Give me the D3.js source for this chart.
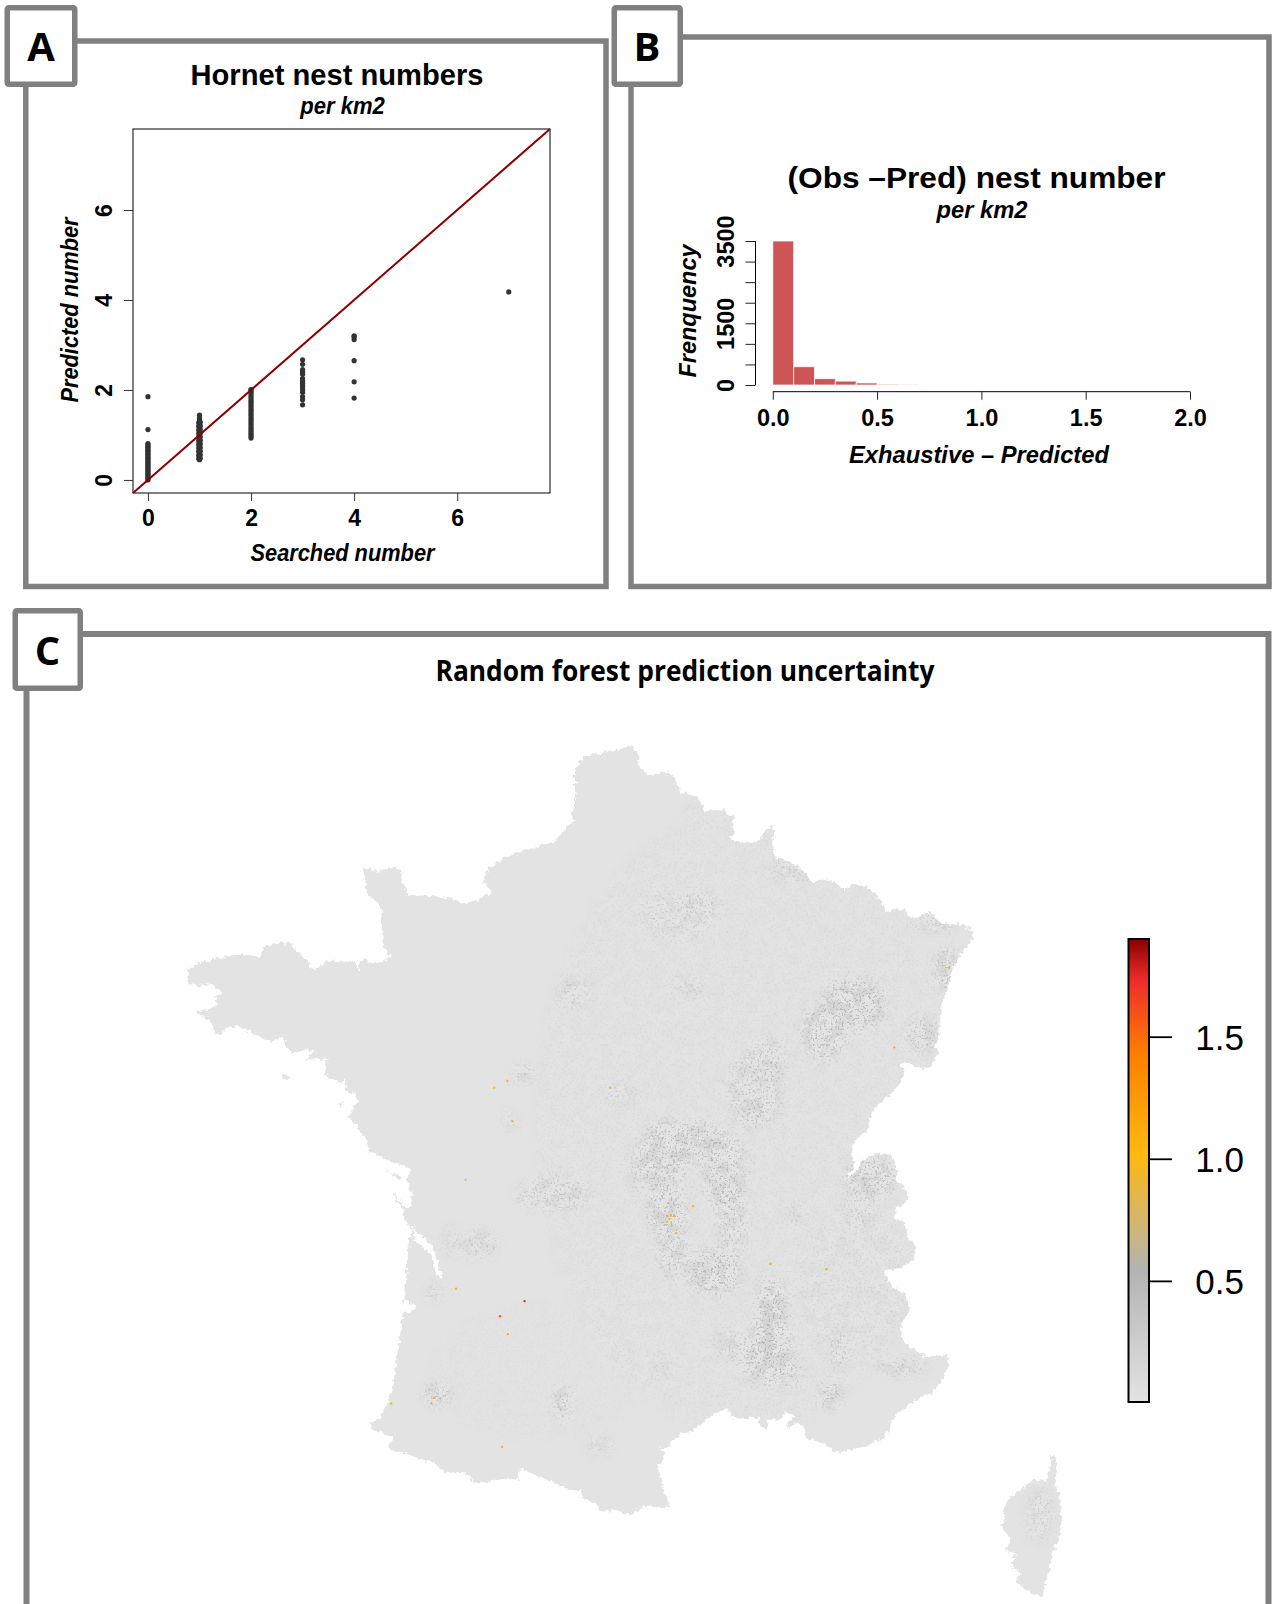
<!DOCTYPE html>
<html><head><meta charset="utf-8">
<script src="https://cdn.jsdelivr.net/npm/d3@7"></script>
<style>html,body{margin:0;padding:0;background:#fff;overflow:hidden}svg{display:block}
text{font-family:"Liberation Sans",Arial,sans-serif;fill:#000}</style></head><body>
<script>
// ---------- Panel A values ----------
const searched0 = [0,0.03,0.06,0.09,0.12,0.15,0.18,0.21,0.24,0.27,0.3,0.33,0.36,0.39,0.42,0.45,0.48,0.51,0.54,0.57,0.6,0.63,0.66,0.69,0.72,0.75,0.78,0.81,1.12,1.85];
const searched1 = [0.45,0.48,0.52,0.56,0.6,0.64,0.68,0.72,0.76,0.8,0.84,0.88,0.92,0.96,1.0,1.04,1.08,1.12,1.16,1.2,1.24,1.28,1.32,1.37,1.44];
const searched1Left = [0.47,0.55,0.63,0.71,0.79,0.87,0.95,1.03,1.11,1.19,1.27];
const searched1Right = [0.48,0.56,0.64,0.72,0.8,0.88,0.96,1.04,1.12,1.2,1.28];
const searched2 = [0.93,0.97,1.01,1.05,1.1,1.15,1.2,1.25,1.3,1.35,1.4,1.45,1.5,1.55,1.6,1.65,1.7,1.75,1.8,1.85,1.9,1.95,2.0,2.01];
const searched3 = [1.67,1.78,1.85,1.95,2.0,2.05,2.1,2.15,2.2,2.25,2.35,2.4,2.45,2.57,2.67];
const searched4 = [1.82,2.18,2.65,3.12,3.18,3.2];
const searched7 = [4.18];
const scatterGroups = [[0,searched0],[1,searched1],[0.985,searched1Left],[1.015,searched1Right],[2,searched2],[3,searched3],[4,searched4],[7,searched7]];
const axisTicksA = [0,2,4,6];
const limitsA = [-0.29,7.8];
// ---------- Panel B values ----------
const binStarts = [0,0.1,0.2,0.3,0.4,0.5,0.6];
const binCounts = [3500,445,155,95,50,18,5];
const freqTicks = [0,500,1000,1500,2000,2500,3000,3500];
const freqLabels = [0,1500,3500];
const diffTicks = [0,0.5,1,1.5,2];
// ---------- Panel C values ----------
const legendTicks = [0.5,1,1.5];
const legendDomain = [0.004,1.9];
const colourValues = [0.004,0.54,1.02,1.43,1.73,1.9];
const colourStops = ["#e3e3e3","#b3b3b3","#ffb90f","#ff7f00","#ee2c2c","#8b0000"];
// coastline, one run per map sheet (sheet grid units)
const coastNE = [[0,90],[30,75],[80,65],[130,55],[155,45],[172,65],[178,85],[172,105],[190,120],[210,135],[235,130],[262,122],[285,145],[297,170],[300,190],[325,192],[352,200],[368,225],[372,245],[395,238],[430,238],[445,258],[462,258],[455,285],[462,305],[450,332],[490,335],[535,335],[552,310],[575,288],[583,300],[578,330],[582,358],[585,382],[610,388],[650,408],[675,425],[695,458],[745,448],[775,462],[795,478],[815,462],[850,465],[885,488],[905,515],[920,545],[955,538],[975,540],[985,560],[1020,560],[1050,545],[1065,565],[1085,582],[1150,582],[1183,608],[1170,640],[1145,670],[1118,715],[1108,760],[1085,820],[1080,880],[1072,930],[1062,950],[1075,965],[1065,995],[1040,1015],[1015,1012],[990,1000],[960,998],[975,1025],[960,1060],[925,1100],[885,1130],[870,1165],[865,1195],[830,1230]];
const coastSE = [[610,5],[585,25],[570,50],[570,80],[578,100],[570,120],[548,150],[575,130],[590,115],[600,90],[640,72],[685,70],[695,95],[705,120],[700,150],[725,170],[738,205],[720,225],[700,232],[698,265],[725,275],[735,315],[762,350],[750,385],[715,410],[680,415],[665,422],[690,465],[730,490],[742,535],[720,570],[715,615],[745,650],[790,675],[830,670],[850,668],[860,695],[840,740],[815,775],[770,795],[735,820],[695,850],[680,885],[670,910],[630,930],[575,950],[520,958],[490,930],[435,915],[430,880],[405,870],[378,885],[378,870],[405,850],[370,838],[360,860],[320,860],[318,885],[295,882],[295,855],[240,855],[210,850],[205,830],[185,830],[140,860],[95,895],[60,905],[30,930],[15,950]];
const coastSW = [[925,950],[945,965],[925,1020],[940,1070],[945,1095],[962,1125],[940,1135],[900,1125],[860,1140],[845,1155],[800,1140],[750,1145],[740,1120],[700,1105],[695,1080],[650,1075],[590,1050],[545,1030],[510,1015],[505,1050],[470,1045],[415,1055],[370,1058],[350,1030],[310,1030],[285,1025],[250,1000],[205,985],[155,965],[125,965],[115,950],[130,925],[90,905],[65,900],[60,880],[90,865],[110,825],[125,790],[135,720],[150,620],[160,550],[192,542],[195,530],[175,512],[160,520],[165,500],[170,420],[178,310],[190,300],[195,330],[245,375],[258,430],[275,450],[280,445],[265,410],[250,350],[225,325],[190,298],[160,265],[160,240],[180,235],[188,195],[170,150],[182,120],[165,105],[125,95],[60,65],[45,25],[25,0]];
const coastNW = [[570,1200],[535,1160],[560,1120],[560,1095],[525,1080],[530,1045],[555,1040],[510,1055],[470,1040],[465,1000],[475,985],[405,990],[430,965],[410,958],[370,970],[345,950],[350,930],[320,925],[300,935],[250,910],[205,888],[165,895],[155,915],[130,908],[125,880],[95,855],[78,845],[110,840],[145,825],[135,800],[155,785],[115,760],[85,770],[55,760],[55,720],[85,700],[130,688],[190,675],[230,675],[270,680],[280,650],[330,640],[360,635],[385,665],[410,690],[430,722],[470,695],[505,690],[530,700],[555,690],[565,725],[570,695],[590,680],[590,698],[630,695],[668,680],[640,655],[637,620],[635,540],[610,505],[590,490],[585,440],[580,412],[630,425],[675,410],[698,425],[690,445],[715,495],[780,498],[840,505],[885,520],[925,510],[970,480],[950,470],[938,455],[955,415],[1000,385],[1050,365],[1110,350],[1150,335],[1185,300],[1198,280],[1215,280],[1205,255],[1215,225],[1215,120],[1230,100]];
const corsica = [[1165,980],[1178,980],[1183,1020],[1175,1065],[1190,1095],[1195,1180],[1190,1220],[1165,1280],[1160,1320],[1145,1355],[1140,1395],[1125,1395],[1085,1375],[1058,1352],[1075,1330],[1045,1305],[1060,1270],[1030,1260],[1045,1225],[1018,1190],[1030,1165],[1020,1145],[1040,1105],[1075,1078],[1115,1050],[1150,1055],[1160,1020]];
const belleIle = [[333,1030],[362,1045],[355,1050],[335,1040]];
const noirmoutier = [[505,1120],[518,1120],[515,1135]];
const ileRe = [[105,120],[150,140],[150,150],[120,130]];
const oleron = [[130,185],[165,235],[160,240],[135,205]];
// uncertainty zones [east, north, spreadE, spreadN, strength] on the overview grid
const zones = [[945,760,45,60,.8],[1000,735,55,35,.75],[1060,790,40,70,.8],[1075,880,25,60,.7],[1040,970,50,40,.9],[960,930,25,50,.7],[950,860,35,45,.95],[905,790,25,40,.5],
[1150,1050,30,70,.95],[1140,1120,50,50,.85],[1180,1150,30,25,.6],[1280,1110,12,30,1],[1265,1190,18,25,.9],[1070,1100,25,25,.5],
[1310,490,60,45,.95],[1250,540,40,50,.85],[1440,545,25,30,.8],[1485,430,25,40,.85],[1460,345,45,18,.6],
[1120,640,50,70,.55],[1110,680,30,30,.5],[1150,590,25,40,.5],[970,330,70,40,.35],[770,470,28,25,.5],[990,460,30,14,.5],[1010,310,40,20,.3],
[510,1190,25,18,1],[750,1205,13,28,1],[505,1005,10,14,.8],[675,615,20,14,.8],[860,650,28,14,.55],[650,700,12,18,.5],
[730,830,70,30,.6],[590,920,38,25,.55],[535,915,15,25,.4],[1340,800,50,35,.8],[1320,860,30,30,.45],[1400,1140,50,18,.55],[820,1280,28,18,.4],[940,1140,15,25,.3],[1195,870,18,18,.4],
[1190,250,40,14,.6],[1000,145,20,7,.5],[1663,1405,26,50,.45],
[1100,700,400,560,.14],[1310,1000,110,130,.12],[700,1150,200,120,.08]];
// isolated high-uncertainty cells [east, north, value]
const hotCells = [[547,1000,1.05],[678,1022,1.75],[631,1049,1.55],[646,1081,1.1],[955,875,1.0],[965,870,1.0],[950,880,.95],[958,868,.9],[968,900,.85],[1000,852,.95],[505,1195,.9],[500,1205,.9],[423,1205,1.0],[842,640,.9],[645,628,.9],[620,640,1.0],[655,700,.8],[565,805,.9],[1490,425,.8],[1385,568,.8],[1255,965,.9],[1148,955,.9],[635,1283,.8]];

const W=1277,H=1604, GREY="#808080";
const svg=d3.select("body").append("svg").attr("width",W).attr("height",H);
const BOLD="700";
function txt(g,s,x,y,size,opt={}){
  const t=g.append("text").attr("x",x).attr("y",y).attr("text-anchor",opt.anchor||"middle")
   .style("font-size",size+"px").style("font-weight",opt.weight||BOLD).style("font-style",opt.italic?"italic":"normal").text(s);
  if(opt.family)t.style("font-family",opt.family);
  if(opt.rot)t.attr("transform",`rotate(-90 ${x} ${y})`);
  if(opt.len)t.attr("textLength",opt.len).attr("lengthAdjust","spacingAndGlyphs");
  return t;
}
function frame(x0,y0,x1,y1){svg.append("path").attr("d",`M${x0},${y0}H${x1}V${y1}H${x0}Z`).attr("fill","none").attr("stroke",GREY).attr("stroke-width",5.5);}
frame(25.8,41,606,586.5); frame(631,37,1269,586.5);
svg.append("path").attr("d",`M26.5,${H+10}V634H1268.5V${H+10}`).attr("fill","none").attr("stroke",GREY).attr("stroke-width",6);

// ---------- Panel C map ----------
const sheet=(x0,y0,k)=>p=>[x0+p[0]/k,y0+p[1]/k];
const toNW=sheet(170,730,3),toNE=sheet(580,730,3),toSW=sheet(350,1130,3),toSE=sheet(660,1130,2.97),toCorse=sheet(659,1126,2.97);
const gx=d3.scaleLinear().domain([0,1568]).range([170,990]);
const gy=d3.scaleLinear().domain([0,1564]).range([730,1604]);
const line=d3.line().curve(d3.curveLinear);
const ringPts=[...coastNE.map(toNE),...coastSE.map(toSE),...coastSW.map(toSW),...coastNW.map(toNW)];
const land=[ringPts,corsica.map(toCorse),belleIle.map(toNW),noirmoutier.map(toNW),ileRe.map(toSW),oleron.map(toSW)];
const landPath=land.map(r=>line(r)+"Z").join("");
const defs=svg.append("defs");
defs.append("clipPath").attr("id","landClip").append("path").attr("d",landPath);
const region={x:150,y:710,width:960,height:894};
function mkFilter(id){const fl=defs.append("filter").attr("id",id).attr("filterUnits","userSpaceOnUse");Object.entries(region).forEach(([k,v])=>fl.attr(k,v));fl.attr("color-interpolation-filters","sRGB");return fl;}
function noiseLayer(fl,blur,freq,oct,seed,grey,gain,bias){
  fl.append("feGaussianBlur").attr("in","SourceGraphic").attr("stdDeviation",blur).attr("result","soft");
  fl.append("feTurbulence").attr("type","fractalNoise").attr("baseFrequency",freq).attr("numOctaves",oct).attr("seed",seed).attr("result","noise");
  fl.append("feColorMatrix").attr("in","noise").attr("type","matrix").attr("values",`0 0 0 0 ${grey}  0 0 0 0 ${grey}  0 0 0 0 ${grey}  0 0 0 ${gain} ${bias}`).attr("result","spots");
  fl.append("feComposite").attr("in","spots").attr("in2","soft").attr("operator","in");
}
noiseLayer(mkFilter("blotch"),5,0.08,3,4,0.83,8,-3.7);
noiseLayer(mkFilter("speckle"),6,0.45,2,11,0.70,9,-5.1);
// ragged raster edge of the land mass
const rag=mkFilter("ragged");
rag.append("feTurbulence").attr("type","fractalNoise").attr("baseFrequency",0.25).attr("numOctaves",2).attr("seed",5).attr("stitchTiles","noStitch").attr("result","n");
rag.append("feDisplacementMap").attr("in","SourceGraphic").attr("in2","n").attr("scale",7).attr("xChannelSelector","R").attr("yChannelSelector","G");

const map=svg.append("g");
map.append("g").attr("filter","url(#ragged)").append("path").attr("d",landPath).attr("fill",colourStops[0]);
const clipG=map.append("g").attr("clip-path","url(#landClip)");
function zoneLayer(id,scale){
  clipG.append("g").attr("filter",`url(#${id})`).selectAll("ellipse").data(zones).join("ellipse")
   .attr("cx",d=>gx(d[0])).attr("cy",d=>gy(d[1])).attr("rx",d=>d[2]/1.912).attr("ry",d=>d[3]/1.79)
   .attr("fill","#000").attr("fill-opacity",d=>Math.min(1,d[4]*scale));
}
zoneLayer("blotch",0.9);
zoneLayer("speckle",0.85);
const colour=d3.scaleLinear().domain(colourValues).range(colourStops);
map.selectAll("circle").data(hotCells).join("circle")
 .attr("cx",d=>gx(d[0])).attr("cy",d=>gy(d[1])).attr("r",1.2).attr("fill",d=>colour(d[2]));

// legend
const legY=d3.scaleLinear().domain(legendDomain).range([1402,939]);
const grad=defs.append("linearGradient").attr("id","legendGrad").attr("x1",0).attr("x2",0).attr("y1",1).attr("y2",0);
grad.selectAll("stop").data(colourValues).join("stop")
 .attr("offset",d=>(d-legendDomain[0])/(legendDomain[1]-legendDomain[0])).attr("stop-color",d=>colour(d));
svg.append("rect").attr("x",1128.5).attr("y",939).attr("width",20.5).attr("height",463).attr("fill","url(#legendGrad)").attr("stroke","#000").attr("stroke-width",2);
const legAxis=svg.append("g").attr("transform","translate(1149,0)").call(d3.axisRight(legY).tickValues(legendTicks).tickSize(23).tickSizeOuter(0).tickFormat(d3.format(".1f")));
legAxis.select(".domain").remove();
legAxis.selectAll("line").attr("stroke","#000").attr("stroke-width",1.8);
legAxis.selectAll("text").attr("x",95).attr("text-anchor","end").attr("dy","0.36em").style("font-size","35px").style("font-weight","400");

// ---------- Panel A ----------
const xA=d3.scaleLinear().domain(limitsA).range([133,550]);
const yA=d3.scaleLinear().domain(limitsA).range([493,129]);
const gA=svg.append("g");
gA.append("rect").attr("x",133).attr("y",129).attr("width",417).attr("height",364).attr("fill","none").attr("stroke","#000").attr("stroke-width",1);
scatterGroups.forEach(([sx,vals])=>{
  gA.append("g").selectAll("circle").data(vals).join("circle")
   .attr("cx",xA(sx)).attr("cy",d=>yA(d)).attr("r",2.6).attr("fill","#333");
});
gA.append("line").attr("x1",xA(limitsA[0])).attr("y1",yA(limitsA[0])).attr("x2",xA(limitsA[1])).attr("y2",yA(limitsA[1])).attr("stroke","#8b0000").attr("stroke-width",2);
const axA=gA.append("g").attr("transform","translate(0,493)").call(d3.axisBottom(xA).tickValues(axisTicksA).tickSize(8).tickSizeOuter(0).tickFormat(d3.format("d")));
axA.select(".domain").remove(); axA.selectAll("line").attr("stroke","#333");
axA.selectAll("text").attr("y",0).attr("dy",0).attr("transform","translate(0,33)").attr("text-anchor","middle").style("font-size","23px").style("font-weight",BOLD);
const ayA=gA.append("g").attr("transform","translate(133,0)").call(d3.axisLeft(yA).tickValues(axisTicksA).tickSize(9).tickSizeOuter(0).tickFormat(d3.format("d")));
ayA.select(".domain").remove(); ayA.selectAll("line").attr("stroke","#333");
ayA.selectAll("text").attr("x",0).attr("y",0).attr("dy",0).attr("text-anchor","middle").attr("transform","translate(-21,0) rotate(-90)").style("font-size","23px").style("font-weight",BOLD);
txt(svg,"Hornet nest numbers",337,85,30,{len:293});
txt(svg,"per km2",342.5,114,23,{italic:true,len:84.5});
txt(svg,"Searched number",342.5,561,23,{italic:true,len:184});
txt(svg,"Predicted number",78,310,23,{italic:true,rot:true,len:185});

// ---------- Panel B ----------
const xB=d3.scaleLinear().domain([0,2]).range([772.8,1190]);
const yB=d3.scaleLinear().domain([0,3500]).range([385,241]);
const gB=svg.append("g");
gB.selectAll("rect").data(binCounts).join("rect")
 .attr("x",(d,i)=>xB(binStarts[i])).attr("width",xB(0.1)-xB(0))
 .attr("y",d=>yB(d)).attr("height",d=>yB(0)-yB(d))
 .attr("fill","#cd5555").attr("stroke","#fff").attr("stroke-opacity",.75).attr("stroke-width",1);
const axB=gB.append("g").attr("transform","translate(0,391.7)").call(d3.axisBottom(xB).tickValues(diffTicks).tickSize(8).tickSizeOuter(0).tickFormat(d3.format(".1f")));
axB.select(".domain").attr("stroke","#000").attr("d",`M${xB(0)},0H${xB(2)}`); axB.selectAll("line").attr("stroke","#222");
axB.selectAll("text").attr("y",0).attr("dy",0).attr("transform","translate(0,34.3)").attr("text-anchor","middle").style("font-size","23.5px").style("font-weight",BOLD);
const ayB=gB.append("g").attr("transform","translate(755.5,0)").call(d3.axisLeft(yB).tickValues(freqTicks).tickSize(10).tickSizeOuter(0).tickFormat(d=>freqLabels.includes(d)?d:""));
ayB.select(".domain").attr("stroke","#000").attr("d",`M0,${yB(3500)}V${yB(0)}`); ayB.selectAll("line").attr("stroke","#222");
ayB.selectAll("text").attr("x",0).attr("y",0).attr("dy",0).attr("text-anchor","middle").attr("transform","translate(-22,0) rotate(-90)").style("font-size","23.5px").style("font-weight",BOLD);
txt(svg,"(Obs \u2013Pred) nest number",976.5,188,30,{len:378});
txt(svg,"per km2",982,218,23,{italic:true,len:91});
txt(svg,"Exhaustive \u2013 Predicted",979,463,23,{italic:true,len:260});
txt(svg,"Frenquency",695.5,311,23,{italic:true,rot:true,len:133});

// ---------- Panel letters ----------
[["A",4.5,5,77.5,87,41,61],["B",611.5,5,683,87,647,61],["C",12.5,608,83,691,47.5,665]].forEach(([s,x0,y0,x1,y1,tx,ty])=>{
  svg.append("rect").attr("x",x0+2.75).attr("y",y0+2.75).attr("width",x1-x0-5.5).attr("height",y1-y0-5.5).attr("rx",1.5)
   .attr("fill","#fff").attr("stroke",GREY).attr("stroke-width",5.5);
  txt(svg,s,tx,ty,40,{family:'"Open Sans",sans-serif'});
});
txt(svg,"Random forest prediction uncertainty",685,681,29,{family:'"Open Sans",sans-serif',len:499});
</script></body></html>
